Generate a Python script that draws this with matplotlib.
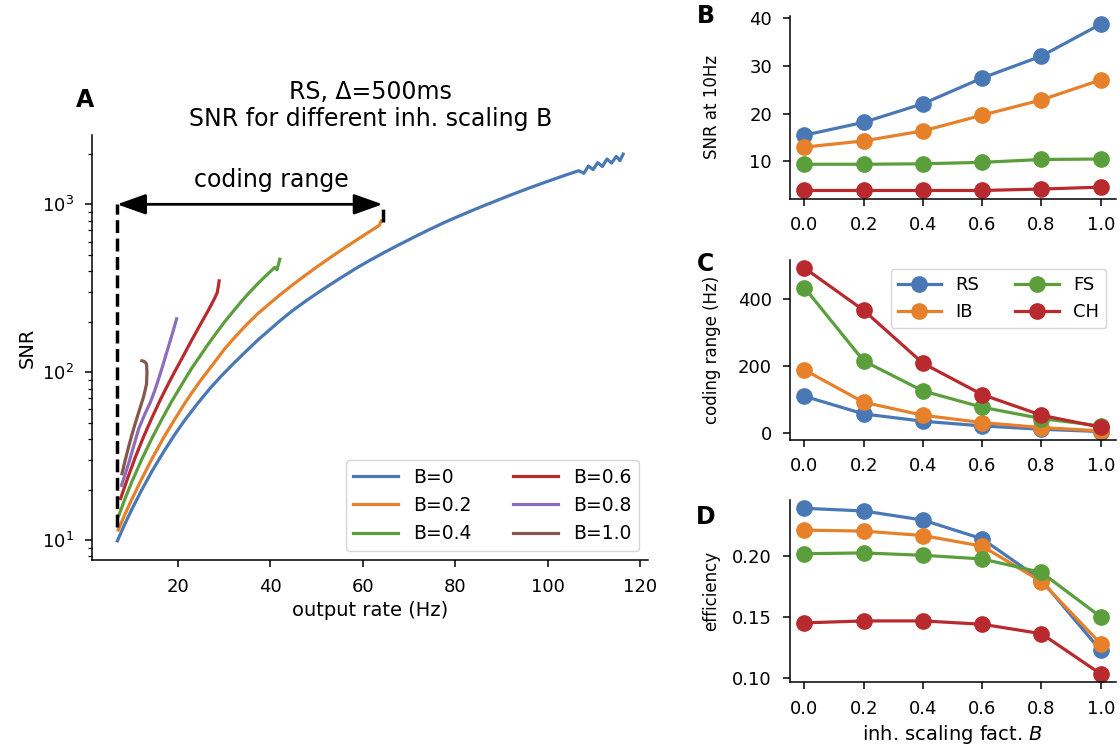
import numpy as np
import matplotlib
matplotlib.use('Agg')
import matplotlib.pyplot as plt

# --- panel A: SNR vs output rate, one curve per inh. scaling B
b_labels = ['B=0', 'B=0.2', 'B=0.4', 'B=0.6', 'B=0.8', 'B=1.0']

rate_b00 = [7.0, 8.5, 10.2, 12.3, 14.5, 17.0, 19.5, 21.6, 24.5, 27.0, 29.4, 32.0, 34.4, 37.4, 39.3,
            42.0, 44.6, 48.0, 51.6, 55.0, 58.9, 61.5, 64.8, 68.0, 71.4, 74.5, 77.9, 81.5, 85.3,
            88.5, 91.9, 95.5, 99.3, 102.0, 104.5, 106.7, 107.8, 108.8, 109.8, 110.8, 111.8,
            112.8, 113.8, 114.8, 115.6, 116.3]
snr_b00 = [9.9, 12.3, 15.4, 20.0, 25.8, 33.6, 43, 52, 66, 80, 94.6, 112, 130, 156, 173,
           201, 230, 269, 314, 361, 421, 463, 519, 577, 644, 709, 785, 867, 959,
           1040, 1133, 1236, 1349, 1433, 1514, 1585, 1530, 1690, 1610, 1770, 1680,
           1860, 1760, 1930, 1820, 1990]

rate_b02 = [7.2, 8.6, 10.2, 12.3, 14.5, 17.0, 19.5, 21.5, 23.1, 25.2, 27.5, 30.2, 32.5, 35.0,
            37.4, 40.0, 42.0, 44.6, 47.0, 49.5, 51.7, 54.0, 56.5, 58.9, 61.0, 63.0, 63.6, 64.0]
snr_b02 = [11.5, 14.2, 17.7, 23.3, 30.6, 40.8, 53, 64.9, 75.5, 91, 110, 138, 163, 193,
           224, 258, 287, 327, 367, 412, 455, 503, 560, 618, 674, 731, 750, 795]

rate_b04 = [7.3, 8.7, 10.2, 12.3, 14.5, 16.5, 18.8, 21.6, 23.1, 24.8, 26.7, 28.5, 30.2, 32.0,
            33.8, 35.5, 37.4, 39.5, 41.0, 41.5, 42.1]
snr_b04 = [14, 17.8, 22.5, 30.4, 40.6, 51.8, 67.5, 90.8, 106, 124, 148, 173, 200, 230,
           264, 298, 338, 385, 421, 408, 471]

rate_b06 = [7.7, 9.2, 10.9, 12.7, 14.5, 16.3, 18.1, 19.5, 21.3, 23.1, 25.0, 26.7, 28.0, 28.6, 29.0]
snr_b06 = [17.7, 23.3, 31.3, 41.5, 53.8, 68.7, 86.3, 102, 126, 156, 194, 235, 275, 299, 350]

rate_b08 = [7.9, 9.5, 11.6, 13.0, 14.1, 15.0, 15.9, 17.0, 18.1, 19.0, 19.8]
snr_b08 = [21.2, 29, 46, 56.8, 66, 76.7, 91, 114, 144, 174, 208]

rate_b10 = [8.0, 8.7, 9.5, 10.2, 10.9, 11.8, 12.7, 13.3, 13.4, 13.3, 12.8, 12.3]
snr_b10 = [24.9, 30, 36.6, 43, 50, 60, 72, 85, 100, 112, 116, 117]

snr_rates = [rate_b00, rate_b02, rate_b04, rate_b06, rate_b08, rate_b10]
snr_vals = [snr_b00, snr_b02, snr_b04, snr_b06, snr_b08, snr_b10]

# coding range annotation (B=0.2 curve)
cr_start = 6.95
cr_end = 64.3
cr_low = 12
cr_top = 1000
cr_end_low = 790

# --- panels B-D: vs inh. scaling factor B, per neuron type
scaling = [0.0, 0.2, 0.4, 0.6, 0.8, 1.0]
types = ['RS', 'IB', 'FS', 'CH']

snr10 = {
    'RS': [15.5, 18.2, 22.1, 27.5, 32.1, 38.8],
    'IB': [13.0, 14.3, 16.4, 19.7, 22.9, 27.1],
    'FS': [9.4, 9.4, 9.5, 9.8, 10.4, 10.5],
    'CH': [3.9, 3.9, 3.9, 3.9, 4.2, 4.6],
}
coding_range = {
    'RS': [109, 56, 34, 20, 10, 3],
    'IB': [188, 91, 52, 30, 15, 5],
    'FS': [435, 215, 125, 76, 42, 20],
    'CH': [494, 367, 208, 114, 52, 16],
}
efficiency = {
    'RS': [0.2386, 0.2364, 0.2290, 0.2137, 0.1800, 0.1227],
    'IB': [0.2208, 0.2200, 0.2164, 0.2077, 0.1789, 0.1282],
    'FS': [0.2016, 0.2022, 0.2003, 0.1973, 0.1863, 0.1501],
    'CH': [0.1452, 0.1468, 0.1468, 0.1441, 0.1364, 0.1036],
}

colors = ['#4a78b5', '#e6802a', '#5b9f3d', '#b82a2e', '#8d6bbd', '#86574b']

plt.rcParams['font.size'] = 13
plt.rcParams['axes.labelsize'] = 14
plt.rcParams['axes.spines.top'] = False
plt.rcParams['axes.spines.right'] = False
plt.rcParams['axes.linewidth'] = 1.1
for k in ('xtick', 'ytick'):
    plt.rcParams[k + '.major.size'] = 5.2
    plt.rcParams[k + '.minor.size'] = 3.0
    plt.rcParams[k + '.major.width'] = 1.1
    plt.rcParams[k + '.minor.width'] = 0.9
    plt.rcParams[k + '.major.pad'] = 7.5
    plt.rcParams[k + '.minor.pad'] = 7.5

fig = plt.figure(figsize=(11.2, 7.53), dpi=100)

# panel A
ax = fig.add_axes([0.082, 0.256, 0.497, 0.565])
for r, s, lab, c in zip(snr_rates, snr_vals, b_labels, colors):
    ax.plot(r, s, lw=2.3, label=lab, color=c)
ax.set_yscale('log')
ax.plot([cr_start, cr_start], [cr_low, cr_top], 'k--', lw=2.5)
ax.plot([cr_end, cr_end], [cr_end_low, cr_top], 'k--', lw=2.5)
ax.annotate('', xy=(cr_end, cr_top), xytext=(cr_start, cr_top),
            arrowprops=dict(arrowstyle='<|-|>,head_length=0.7,head_width=0.25', color='k',
                            lw=2, mutation_scale=25, shrinkA=0, shrinkB=0))
ax.text(40.3, 1400, 'coding range', ha='center', va='center', fontsize=17)
ax.set_xlabel('output rate (Hz)')
ax.set_ylabel('SNR')
ax.set_title('RS, Δ=500ms\nSNR for different inh. scaling B', fontsize=17)
ax.legend(loc='lower right', ncol=2, fontsize=13.5, handlelength=2.4, columnspacing=2.2)
fig.text(0.076, 0.867, 'A', fontsize=17, fontweight='bold', ha='center', va='center')

# panels B, C, D
axB = fig.add_axes([0.705, 0.736, 0.291, 0.243])
axC = fig.add_axes([0.705, 0.416, 0.291, 0.239])
axD = fig.add_axes([0.705, 0.094, 0.291, 0.242])

for t, c in zip(types, colors):
    axB.plot(scaling, snr10[t], 'o-', lw=2.3, ms=11, label=t, color=c)
    axC.plot(scaling, coding_range[t], 'o-', lw=2.3, ms=11, label=t, color=c)
    axD.plot(scaling, efficiency[t], 'o-', lw=2.3, ms=11, label=t, color=c)

axB.set_ylabel('SNR at 10Hz', fontsize=12)
axC.set_ylabel('coding range (Hz)', fontsize=12)
axD.set_ylabel('efficiency', fontsize=12)
axD.set_xlabel('inh. scaling fact. $B$')
axC.legend(loc='upper right', ncol=2, fontsize=13, handlelength=2.4)
for a in (axB, axC, axD):
    a.set_xticks(scaling)
    a.yaxis.set_label_coords(-0.212, 0.5)

fig.text(0.630, 0.979, 'B', fontsize=17, fontweight='bold', ha='center', va='center')
fig.text(0.630, 0.649, 'C', fontsize=17, fontweight='bold', ha='center', va='center')
fig.text(0.630, 0.313, 'D', fontsize=17, fontweight='bold', ha='center', va='center')

fig.savefig('out.png', dpi=100)
